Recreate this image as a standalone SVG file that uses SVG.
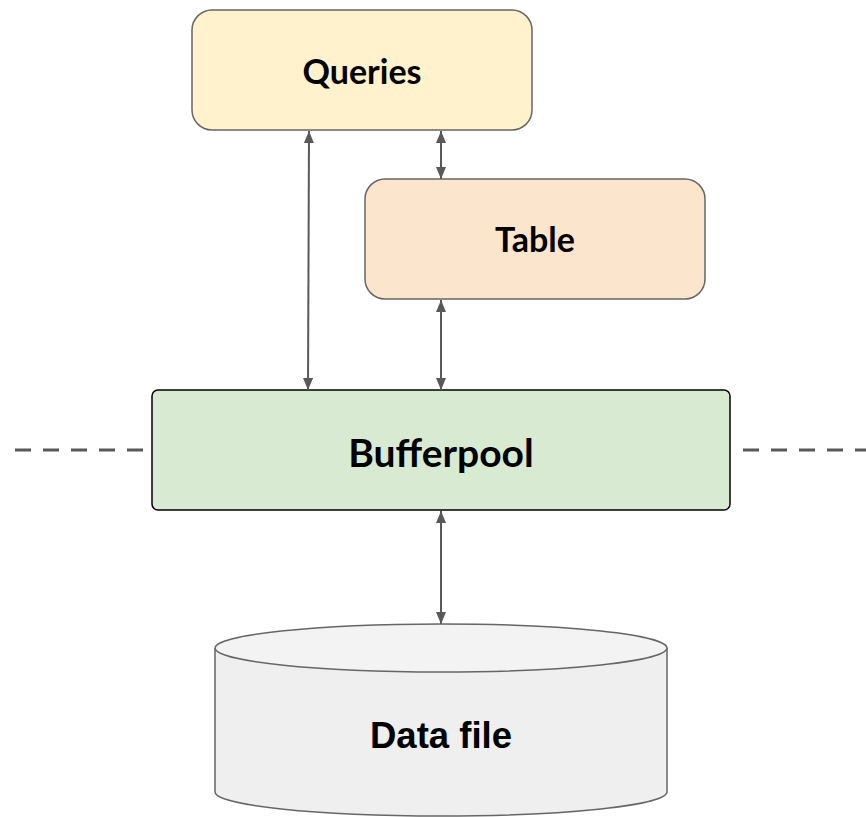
<svg xmlns="http://www.w3.org/2000/svg" width="866" height="817" viewBox="0 0 866 817">
  <defs>
    <marker id="head" viewBox="0 0 12 10" refX="12" refY="5" markerWidth="12" markerHeight="10" markerUnits="userSpaceOnUse" orient="auto-start-reverse">
      <path d="M0,0 L12,5 L0,10 Z" fill="#595959"/>
    </marker>
    <style>
      .box { stroke: #666666; stroke-width: 1.5; }
      .label { font-family: Lato, "Open Sans", sans-serif; font-weight: 700; font-size: 34px; fill: #000; text-anchor: middle; }
      .link { stroke: #595959; stroke-width: 2; fill: none; marker-start: url(#head); marker-end: url(#head); }
      .dash { stroke: #595959; stroke-width: 3; stroke-dasharray: 16 12; fill: none; }
    </style>
  </defs>
  <rect width="866" height="817" fill="#ffffff"/>

  <!-- layer boundary -->
  <g id="boundary">
    <line class="dash" x1="15" y1="450" x2="143" y2="450"/>
    <line class="dash" x1="743" y1="450" x2="866" y2="450"/>
  </g>

  <g id="queries">
    <rect class="box" x="192" y="10" width="340" height="120" rx="20" fill="#fff2cc"/>
    <text class="label" x="362" y="84">Queries</text>
  </g>

  <g id="table">
    <rect class="box" x="365" y="179" width="340" height="120" rx="20" fill="#fce5cd"/>
    <text class="label" x="535" y="252">Table</text>
  </g>

  <g id="bufferpool">
    <rect x="152" y="390" width="578" height="120" rx="6" fill="#d9ead3" stroke="#000000" stroke-width="1.5"/>
    <text class="label" x="441" y="467" style="font-size:39px">Bufferpool</text>
  </g>

  <g id="datafile">
    <path d="M215,648 L215,792 A226,24 0 0 0 667,792 L667,648" fill="#efefef" stroke="#666666" stroke-width="1.5"/>
    <ellipse cx="441" cy="648" rx="226" ry="24" fill="#f3f3f3" stroke="#666666" stroke-width="1.5"/>
    <text x="441" y="748" text-anchor="middle" font-family="'Liberation Sans', Arial, sans-serif" font-weight="700" font-size="36.5" fill="#000">Data file</text>
  </g>

  <g id="connectors">
    <line class="link" x1="309" y1="131" x2="308" y2="390"/>
    <line class="link" x1="441" y1="131" x2="441" y2="179"/>
    <line class="link" x1="441" y1="300" x2="441" y2="390"/>
    <line class="link" x1="441" y1="511" x2="441" y2="624"/>
  </g>
</svg>
